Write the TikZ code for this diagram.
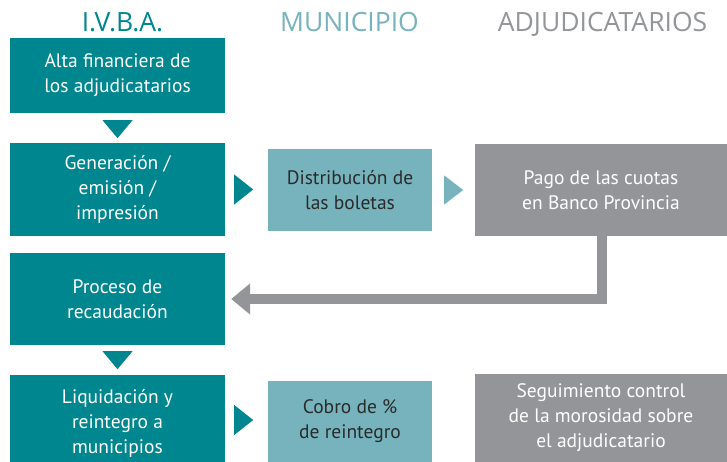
\documentclass[tikz,border=0pt]{standalone}
\usepackage{fontspec}
\setmainfont{PT Sans}
\newfontfamily\headfont{Open Sans}
\usetikzlibrary{arrows.meta,calc}
\definecolor{ivba}{HTML}{00868F}
\definecolor{muni}{HTML}{76B3BC}
\definecolor{adju}{HTML}{939598}
\definecolor{darktext}{HTML}{2A2A2A}
\begin{document}
\begin{tikzpicture}[x=1pt,y=-1pt,
  box/.style={rectangle, inner sep=0pt, align=center, font=\fontsize{19.5}{25}\selectfont},
  ivbabox/.style={box, fill=ivba, text=white, minimum width=215pt},
  munibox/.style={box, fill=muni, text=darktext, minimum width=164pt},
  adjubox/.style={box, fill=adju, text=white, minimum width=252pt},
  head/.style={anchor=base, font=\headfont\fontsize{26.5}{26.5}\selectfont},
  back/.style={draw=adju, line width=10pt, line join=miter, -{Triangle[width=30pt,length=19pt]}}]
\clip (0,0) rectangle (727,462);
\fill[white] (0,0) rectangle (727,462);
% headers
\node[head, text=ivba] (h1) at (122.5,32) {I.V.B.A.};
\node[head, text=muni] (h2) at (349.5,32) {MUNICIPIO};
\node[head, text=adju] (h3) at (602.5,32) {ADJUDICATARIOS};
% boxes
\node[ivbabox, minimum height=75pt] (b1) at (117.5,75.5) {Alta financiera de\\los adjudicatarios};
\node[ivbabox, minimum height=93pt] (b2) at (117.5,189.5) {Generación /\\emisión /\\impresión};
\node[munibox, minimum height=82pt] (b3) at (350,190) {Distribución de\\las boletas};
\node[adjubox, minimum height=92pt] (b4) at (601,190) {Pago de las cuotas\\en Banco Provincia};
\node[ivbabox, minimum height=92pt] (b5) at (117.5,299) {Proceso de\\recaudación};
\node[ivbabox, minimum height=97pt] (b6) at (117.5,423.5) {Liquidación y\\reintegro a\\municipios};
\node[munibox, minimum height=81pt] (b7) at (350,421.5) {Cobro de \%\\de reintegro};
\node[adjubox, minimum height=88pt] (b8) at (601,418) {Seguimiento control\\de la morosidad sobre\\el adjudicatario};
% triangles
\fill[ivba] ([xshift=-15pt,yshift=-7pt]b1.south) -- ([xshift=15pt,yshift=-7pt]b1.south) -- ([yshift=-25pt]b1.south) -- cycle;
\fill[ivba] ([xshift=-15pt,yshift=-6pt]b5.south) -- ([xshift=15pt,yshift=-6pt]b5.south) -- ([yshift=-24pt]b5.south) -- cycle;
\fill[ivba] ([xshift=9pt,yshift=15pt]b2.east) -- ([xshift=9pt,yshift=-15pt]b2.east) -- ([xshift=28pt]b2.east) -- cycle;
\fill[muni] ([xshift=12pt,yshift=14.5pt]b3.east) -- ([xshift=12pt,yshift=-14.5pt]b3.east) -- ([xshift=31pt]b3.east) -- cycle;
\fill[ivba] ([xshift=9pt,yshift=18.5pt]b6.east) -- ([xshift=9pt,yshift=-11.5pt]b6.east) -- ([xshift=28pt,yshift=3.5pt]b6.east) -- cycle;
% return arrow
\draw[back] ([xshift=1pt]b4.south) |- ([xshift=6pt]b5.east);
\end{tikzpicture}
\end{document}
